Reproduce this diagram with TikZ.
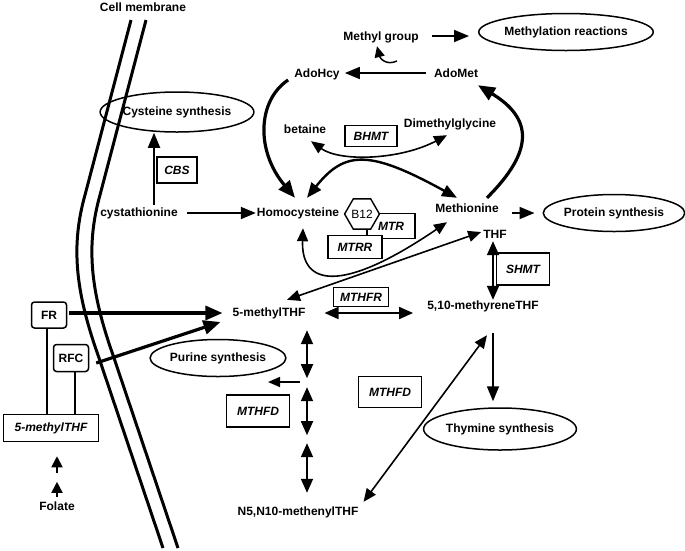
\documentclass[tikz,border=0pt]{standalone}
\usepackage{fontspec}
\setmainfont{Liberation Sans}
\usetikzlibrary{arrows.meta,shapes.geometric,calc}
\begin{document}
\begin{tikzpicture}[x=1pt,y=-1pt,
  font=\fontsize{12}{14}\selectfont\bfseries,
  txt/.style={inner sep=0pt,text height=9pt,text depth=3pt},
  enz/.style={draw,line width=1.5pt,inner sep=0pt,fill=white,font=\fontsize{12}{14}\selectfont\bfseries\itshape},
  ell/.style={draw,ellipse,line width=1.5pt,inner sep=0pt},
  rbox/.style={draw,rounded corners=3pt,line width=1.5pt,inner sep=0pt,minimum width=35pt,minimum height=26pt},
  hexa/.style={draw,regular polygon,regular polygon sides=6,minimum size=29pt,inner sep=0pt,line width=1.4pt,fill=white,font=\fontsize{12}{14}\selectfont},
  arr/.style={line width=1.8pt,-{Triangle[length=15pt,width=12pt]}},
  dbl/.style={line width=1.8pt,{Triangle[length=14pt,width=12pt]}-{Triangle[length=14pt,width=12pt]}},
  thk/.style={line width=3.2pt,-{Triangle[length=17pt,width=14pt]}},
  dthin/.style={line width=1.6pt,{Triangle[length=13pt,width=11pt]}-{Triangle[length=13pt,width=11pt]}},
  membrane/.style={line width=3pt}]
\useasboundingbox (0,0) rectangle (685,550);

% membrane
\draw[membrane] (131,20) -- (85,195) .. controls (71,245) and (75,290) .. (98,355) -- (163,548);
\draw[membrane] (146,20) -- (100,195) .. controls (86,245) and (90,290) .. (113,355) -- (178,548);

% nodes
\node[txt] (cellm) at (143,8) {Cell membrane};
\node[txt] (methyl) at (381,37) {Methyl group};
\node[ell,minimum width=158pt,minimum height=37pt] (methr) at (566,32) {Methylation reactions};
\node[txt] (adohcy) at (317,74) {AdoHcy};
\node[txt] (adomet) at (456,74) {AdoMet};
\node[txt] (betaine) at (305,130) {betaine};
\node[txt] (dmg) at (450,124) {Dimethylglycine};
\node[enz,minimum width=52pt,minimum height=21pt] (bhmt) at (371,136) {BHMT};
\node[ell,minimum width=135pt,minimum height=40pt] (cysyn) at (177,112) {Cysteine synthesis};
\node[enz,minimum width=40pt,minimum height=26pt] (cbs) at (177,170) {CBS};
\node[txt] (cysta) at (139,213) {cystathionine};
\node[txt] (hcy) at (298,213) {Homocysteine};
\node[txt] (met) at (467,209) {Methionine};
\node[ell,minimum width=135pt,minimum height=37pt] (prot) at (614,213) {Protein synthesis};
\node[enz,minimum width=48pt,minimum height=25pt] (mtr) at (391,226) {MTR};
\node[enz,minimum width=54pt,minimum height=23pt] (mtrr) at (355,247) {MTRR};
\node[hexa] (b12) at (362,214) {B12};
\node[txt] (thf) at (495,235) {THF};
\node[enz,minimum width=53pt,minimum height=32pt] (shmt) at (523,269) {SHMT};
\node[txt] (mthf) at (269,313) {5-methylTHF};
\node[enz,minimum width=55pt,minimum height=19pt] (mthfr) at (361,297) {MTHFR};
\node[txt] (mlthf) at (483,306) {5,10-methyreneTHF};
\node[ell,minimum width=127pt,minimum height=37pt] (purine) at (218,358) {Purine synthesis};
\node[enz,minimum width=63pt,minimum height=32pt] (mthfda) at (258,411) {MTHFD};
\node[enz,minimum width=63pt,minimum height=31pt] (mthfdb) at (390,392) {MTHFD};
\node[ell,minimum width=135pt,minimum height=42pt] (thym) at (500,429) {Thymine synthesis};
\node[txt] (n5) at (298,512) {N5,N10-methenylTHF};
\node[rbox] (fr) at (49,315) {FR};
\node[rbox,minimum height=27pt] (rfc) at (71,358) {RFC};
\node[enz,minimum width=95pt,minimum height=27pt] (mthfbox) at (51,428) {5-methylTHF};
\node[txt] (folate) at (57,507) {Folate};

% connectors
\draw[arr] ($(methyl.east)+(13,-1)$) -- ($(methr.west)+(-9,4)$);
\coordinate (hooktail) at (397,61);
\draw[line width=1.5pt,-{Triangle[length=11pt,width=10pt]}] (hooktail) .. controls (386,66) and (380,58) .. ($(methyl.south)+(-4,3)$);
\draw[arr] ($(adomet.west)+(-8,-1)$) -- ($(adohcy.east)+(5,-1)$);
\draw[thk] ($(adohcy.west)+(-6,6)$) .. controls (258,100) and (255,150) .. ($(hcy.north)+(-3,-9)$);
\draw[line width=2.4pt,{Triangle[length=15pt,width=12pt]}-{Triangle[length=15pt,width=12pt]}] ($(hcy.north)+(9,-9)$) .. controls (345,150) and (370,150) .. ($(met.north)+(-10,-5)$);
\draw[dthin] ($(betaine.south)+(6,5)$) .. controls (340,162) and (400,160) .. ($(dmg.south)+(-3,5)$);
\draw[thk] ($(met.north)+(20,-5)$) .. controls (535,150) and (532,118) .. ($(adomet.south)+(22,5)$);
\draw[arr] ($(cysta.east)+(9,0)$) -- ($(hcy.west)+(-1,0)$);
\draw[arr] ($(cysta.north)+(15,-2)$) coordinate (c1) -- (c1 |- cysyn.south);
\draw[arr] ($(met.east)+(13,4)$) -- ($(prot.west)+(-8,0)$);
\draw[dthin] ($(hcy.south)+(5,9)$) .. controls (301,285) and (340,295) .. ($(met.south)+(-20,7)$);
\draw[dthin] ($(mthf.north)+(18,-7)$) -- ($(thf.west)+(-2,-3)$);
\draw[dbl] ($(mthf.east)+(19,0)$) -- ($(mthf.east -| mlthf.west)+(-14,0)$);
\draw[dbl] ($(thf.south)+(-2,0)$) coordinate (s1) -- (s1 |- mlthf.north);
\draw[arr] ($(mlthf.south)+(10,21)$) coordinate (t1) -- ($(t1 |- thym.north)+(0,-6)$);
\draw[dthin] ($(mlthf.south)+(4,23)$) -- ($(n5.north east)+(5,-4)$);
\coordinate (p1) at ($(mthf.south)+(38,11)$);
\coordinate (p2) at ($(p1)+(0,48)$);
\coordinate (p3) at ($(p1)+(0,57)$);
\coordinate (p4) at ($(p1)+(0,105)$);
\coordinate (p5) at ($(p1)+(0,113)$);
\coordinate (p6) at ($(n5.north)+(9,-13)$);
\draw[dbl] (p1) -- (p2);
\draw[dbl] (p3) -- (p4);
\draw[dbl] (p5) -- (p6);
\coordinate (pt) at (300,382);
\draw[line width=1.6pt,-{Triangle[length=12pt,width=10pt]}] (pt) -- ($(purine.center)+(50,24)$);
\draw[thk] ($(fr.east)+(2,-2)$) -- ($(mthf.west)+(-10,0)$);
\draw[thk] ($(rfc.east)+(7,5)$) -- ($(mthf.west)+(-12,9)$);
\draw[line width=1.1pt] ($(fr.south)+(-2,0)$) coordinate (f1) -- (f1 |- mthfbox.north);
\draw[line width=1.1pt] ($(rfc.south)+(4,0)$) coordinate (r1) -- (r1 |- mthfbox.north);
\coordinate (fa) at ($(folate.north)+(0,-4)$);
\coordinate (fb) at ($(fa)+(0,-15)$);
\coordinate (fc) at ($(mthfbox.south)+(6,31)$);
\coordinate (fd) at ($(mthfbox.south)+(6,14)$);
\draw[line width=1.8pt,-{Triangle[length=11pt,width=11pt]}] (fa) -- (fb);
\draw[line width=1.8pt,-{Triangle[length=11pt,width=11pt]}] (fc) -- (fd);
\end{tikzpicture}
\end{document}
